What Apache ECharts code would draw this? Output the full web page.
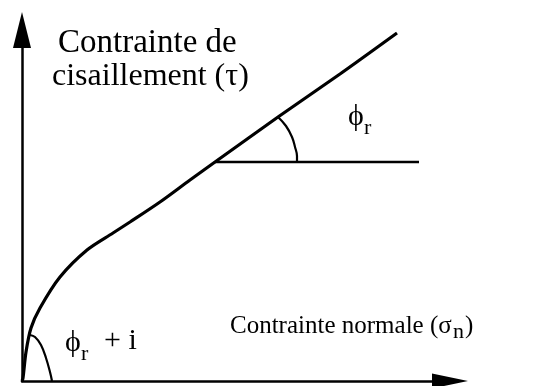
<!DOCTYPE html>
<html>
<head>
<meta charset="utf-8">
<script src="https://cdn.jsdelivr.net/npm/echarts@6/dist/echarts.min.js"></script>
<style>
  html, body { margin: 0; padding: 0; background: #fff; }
  #main { width: 545px; height: 386px; }
</style>
</head>
<body>
<div id="main"></div>
<script>
    // units: arbitrary stress units, origin at the axes crossing
    var sigmaN = [0, 1, 4, 9, 18, 38, 65, 91, 108, 138, 168, 193, 256, 318, 375];
    var tau    = [0, 3, 29, 53, 73, 104, 131, 148, 159, 179, 201, 219, 264, 307, 348];

    // horizontal reference line from the tangent point
    var refX = [193, 397];
    var refY = [219, 219];

    // angle arc phi_r
    var arcRX = [256, 264, 270, 273, 275, 275];
    var arcRY = [264, 255, 244, 234, 225, 219];

    // angle arc phi_r + i at the origin
    var arcIX = [8, 13, 19, 24, 28, 30];
    var arcIY = [46, 44, 36, 23, 9, 0];

    var xMax = 428, yMax = 351;

    function pairs(xs, ys) {
        var out = [];
        for (var i = 0; i < xs.length; i++) out.push([xs[i], ys[i]]);
        return out;
    }

    var serif = '"Liberation Serif", "DejaVu Serif", serif';
    var chart = echarts.init(document.getElementById('main'), null, {renderer: 'canvas'});

    var axisCommon = {
        type: 'value',
        axisTick: {show: false},
        axisLabel: {show: false},
        splitLine: {show: false}
    };

    chart.setOption({
        animation: false,
        backgroundColor: '#fff',
        grid: {left: 22, bottom: 5, top: 30, width: 428},
        xAxis: Object.assign({}, axisCommon, {
            min: 0, max: xMax,
            axisLine: {show: true, onZero: false, symbol: ['none', 'triangle'], symbolSize: [15, 36],
                       lineStyle: {color: '#000', width: 2.5}}
        }),
        yAxis: Object.assign({}, axisCommon, {
            min: 0, max: yMax,
            axisLine: {show: true, onZero: false, symbol: ['none', 'triangle'], symbolSize: [18, 36],
                       lineStyle: {color: '#000', width: 2.5}}
        }),
        series: [
            {
                type: 'line', data: pairs(sigmaN, tau), smooth: 0.3,
                showSymbol: false, lineStyle: {color: '#000', width: 3.2}
            },
            {
                type: 'line', data: pairs(refX, refY), showSymbol: false,
                lineStyle: {color: '#000', width: 2.6}
            },
            {
                type: 'line', data: pairs(arcRX, arcRY), smooth: 0.4, showSymbol: false,
                lineStyle: {color: '#000', width: 2.2}
            },
            {
                type: 'line', data: pairs(arcIX, arcIY), smooth: 0.4, showSymbol: false,
                lineStyle: {color: '#000', width: 2.2}
            }
        ],
        graphic: [
            {type: 'text', left: 58, top: 27, style: {text: 'Contrainte de', font: '33px ' + serif, fill: '#000'}},
            {type: 'text', left: 52, top: 61, style: {text: 'cisaillement (τ)', font: '32px ' + serif, fill: '#000'}},
            {type: 'text', left: 348, top: 102, style: {text: 'ϕ', font: '30px ' + serif, fill: '#000'}},
            {type: 'text', left: 364, top: 117, style: {text: 'r', font: '22px ' + serif, fill: '#000'}},
            {type: 'text', left: 65, top: 328, style: {text: 'ϕ', font: '30px ' + serif, fill: '#000'}},
            {type: 'text', left: 81, top: 343, style: {text: 'r', font: '22px ' + serif, fill: '#000'}},
            {type: 'text', left: 104, top: 326, style: {text: '+ i', font: '30px ' + serif, fill: '#000'}},
            {type: 'text', left: 230, top: 314, style: {text: 'Contrainte normale (σ', font: '25px ' + serif, fill: '#000'}},
            {type: 'text', left: 453, top: 321, style: {text: 'n', font: '22px ' + serif, fill: '#000'}},
            {type: 'text', left: 465, top: 314, style: {text: ')', font: '25px ' + serif, fill: '#000'}}
        ]
    });
</script>
</body>
</html>
